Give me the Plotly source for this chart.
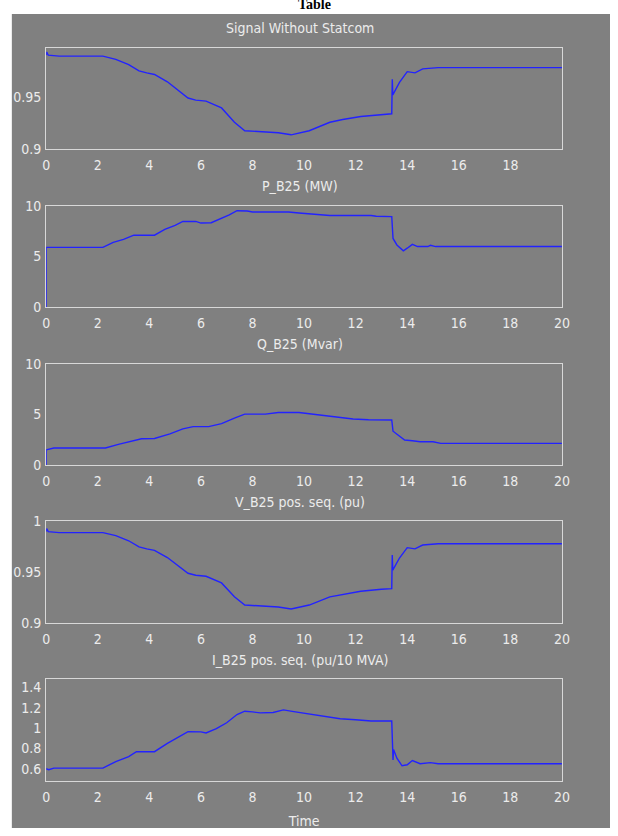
import plotly.graph_objects as go

# ---------------- data ----------------
titles = ["Signal Without Statcom", "P_B25 (MW)", "Q_B25 (Mvar)",
          "V_B25 pos. seq. (pu)", "I_B25 pos. seq. (pu/10 MVA)"]

t_v = [0, 0.02, 0.08, 0.5, 2.2, 2.7, 3.2, 3.6, 3.9, 4.2, 4.7, 5.2, 5.5, 5.8, 6.2, 6.8,
       7.3, 7.7, 8.3, 9.0, 9.5, 10.2, 11.0, 11.5, 12.2, 13.0, 13.4, 13.42, 13.44,
       13.7, 14.0, 14.3, 14.6, 15.2, 20]
v_b25 = [0.990, 0.993, 0.990, 0.989, 0.989, 0.986, 0.981, 0.975, 0.973, 0.9715, 0.9645,
         0.9548, 0.949, 0.947, 0.946, 0.9395, 0.9258, 0.9177, 0.9168, 0.9158, 0.9138,
         0.9177, 0.9258, 0.9284, 0.9313, 0.9332, 0.9339, 0.967, 0.952, 0.964, 0.9742,
         0.973, 0.9768, 0.978, 0.978]

t_p = [0, 0.001, 2.2, 2.6, 3.0, 3.4, 4.2, 4.6, 5.0, 5.3, 5.8, 6.0, 6.4, 6.7, 7.1, 7.4,
       7.8, 8.0, 9.4, 9.8, 10.4, 11.0, 12.6, 12.8, 13.4, 13.45, 13.6, 13.85, 14.0,
       14.2, 14.4, 14.8, 14.9, 15.1, 20]
p_b25 = [0, 5.9, 5.9, 6.4, 6.69, 7.1, 7.1, 7.68, 8.07, 8.46, 8.46, 8.3, 8.33, 8.65, 9.1,
         9.52, 9.49, 9.39, 9.39, 9.29, 9.2, 9.04, 9.04, 8.97, 8.94, 6.78, 6.14, 5.56,
         5.82, 6.2, 5.98, 5.98, 6.1, 5.98, 5.98]

t_q = [0, 0.001, 0.3, 2.3, 2.8, 3.3, 3.7, 4.2, 4.8, 5.3, 5.7, 6.3, 6.8, 7.3, 7.7, 8.5,
       9.0, 9.8, 10.5, 11.1, 11.9, 12.5, 13.4, 13.45, 13.6, 13.9, 14.2, 14.5, 15.0,
       15.3, 20]
q_b25 = [0, 1.5, 1.69, 1.69, 2.05, 2.37, 2.6, 2.63, 3.08, 3.57, 3.8, 3.8, 4.09, 4.64,
         5.03, 5.03, 5.19, 5.19, 4.97, 4.74, 4.55, 4.48, 4.45, 3.34, 3.02, 2.47, 2.4,
         2.3, 2.3, 2.14, 2.14]

t_i = [0, 0.1, 0.3, 2.2, 2.7, 3.2, 3.5, 4.2, 4.7, 5.2, 5.5, 6.0, 6.2, 6.6, 7.0, 7.4,
       7.7, 8.0, 8.3, 8.8, 9.2, 9.6, 10.2, 10.8, 11.4, 12.0, 12.6, 13.4, 13.45, 13.47,
       13.6, 13.8, 14.0, 14.2, 14.5, 14.9, 15.2, 20]
i_b25 = [0.60, 0.59, 0.606, 0.606, 0.671, 0.72, 0.768, 0.768, 0.85, 0.92, 0.966, 0.963,
         0.953, 0.995, 1.053, 1.134, 1.167, 1.16, 1.15, 1.154, 1.18, 1.163, 1.14, 1.115,
         1.092, 1.083, 1.07, 1.07, 0.687, 0.79, 0.704, 0.629, 0.639, 0.681, 0.649,
         0.66, 0.649, 0.649]

series_t = [t_v, t_p, t_q, t_v, t_i]
series_y = [v_b25, p_b25, q_b25, v_b25, i_b25]

y_ranges = [[0.9, 0.9966], [0, 10], [0, 10], [0.9, 1.0], [0.48, 1.48]]
y_ticks = [[0.9, 0.95], [0, 5, 10], [0, 5, 10], [0.9, 0.95, 1], [0.6, 0.8, 1, 1.2, 1.4]]
y_ticktext = [["0.9", "0.95"], ["0", "5", "10"], ["0", "5", "10"],
              ["0.9", "0.95", "1"], ["0.6", "0.8", "1", "1.2", "1.4"]]
x_ticks_first = [0, 2, 4, 6, 8, 10, 12, 14, 16, 18]
x_ticks = [0, 2, 4, 6, 8, 10, 12, 14, 16, 18, 20]
x_label = "Time"

# ---------------- layout geometry ----------------
W, H = 618, 836
GREY = "#808080"
TXT = "#ececec"
FONT = "Liberation Sans Narrow, DejaVu Sans Condensed, Arial Narrow, sans-serif"
plot_px = [(41, 144), (201.7, 305), (362.7, 466), (523.5, 627), (684.5, 788)]
x_dom = [43 / W, 569 / W]

fig = go.Figure()
annotations = []
for k in range(5):
    n = "" if k == 0 else str(k + 1)
    fig.add_trace(go.Scatter(x=series_t[k], y=series_y[k], mode="lines",
                             line=dict(color="#2222ff", width=1.4),
                             xaxis="x" + n, yaxis="y" + n, showlegend=False,
                             hoverinfo="skip"))
    top, bot = plot_px[k]
    ydom = [1 - bot / H, 1 - top / H]
    xt = x_ticks_first if k == 0 else x_ticks
    xr = [0, 19.999] if k == 0 else [0, 20]
    xa = dict(domain=x_dom, range=xr, tickvals=xt, ticktext=[str(v) for v in xt],
              showgrid=False, zeroline=False, showline=True, linecolor="#d8d8d8",
              mirror=True, ticks="outside", ticklen=3, tickcolor=GREY,
              tickfont=dict(family=FONT, size=14, color=TXT),
              anchor="y" + n, fixedrange=True)
    if k == 4:
        xa["title"] = dict(text=x_label, font=dict(family=FONT, size=14, color=TXT),
                           standoff=12)
    ya = dict(domain=ydom, range=y_ranges[k], tickvals=y_ticks[k],
              ticktext=y_ticktext[k], showgrid=False, zeroline=False,
              showline=True, linecolor="#d8d8d8", mirror=True,
              ticks="outside", ticklen=1, tickcolor=GREY,
              tickfont=dict(family=FONT, size=14, color=TXT),
              anchor="x" + n, fixedrange=True)
    fig.update_layout({"xaxis" + n: xa, "yaxis" + n: ya})
    annotations.append(dict(text=titles[k], xref="paper", yref="paper",
                            x=(x_dom[0] + x_dom[1]) / 2 - 4 / W, y=1 - (top - 10) / H,
                            xanchor="center", yanchor="bottom", showarrow=False,
                            font=dict(family=FONT, size=14, color=TXT)))

# cropped caption at the very top of the page
annotations.append(dict(text="<b>Table</b>", xref="paper", yref="paper",
                        x=317 / W, y=1 - 6 / H, xanchor="center", yanchor="bottom",
                        showarrow=False,
                        font=dict(family="Liberation Serif, serif", size=14,
                                  color="black")))

fig.update_layout(
    width=W, height=H, margin=dict(l=0, r=0, t=0, b=0),
    paper_bgcolor="white", plot_bgcolor="white",
    annotations=annotations,
    shapes=[dict(type="rect", xref="paper", yref="paper", x0=8 / W, x1=1,
                 y0=0, y1=1 - 6 / H, fillcolor=GREY, line=dict(width=0),
                 layer="below")],
)

fig.write_html(
    "out.html",
    config={"displayModeBar": False, "responsive": False},
    post_script=(
        "document.documentElement.style.margin='0';"
        "document.documentElement.style.padding='0';"
        "document.documentElement.style.overflow='hidden';"
        "document.documentElement.style.background='" + GREY + "';"
        "document.body.style.margin='0';"
        "document.body.style.padding='0';"
        "document.body.style.overflow='hidden';"
        "document.body.style.background='" + GREY + "';"
        "var gd=document.getElementById('{plot_id}');"
        "gd.style.display='block';"
        "if(gd.parentNode){gd.parentNode.style.display='block';"
        "gd.parentNode.style.lineHeight='0';}"
    ),
)
